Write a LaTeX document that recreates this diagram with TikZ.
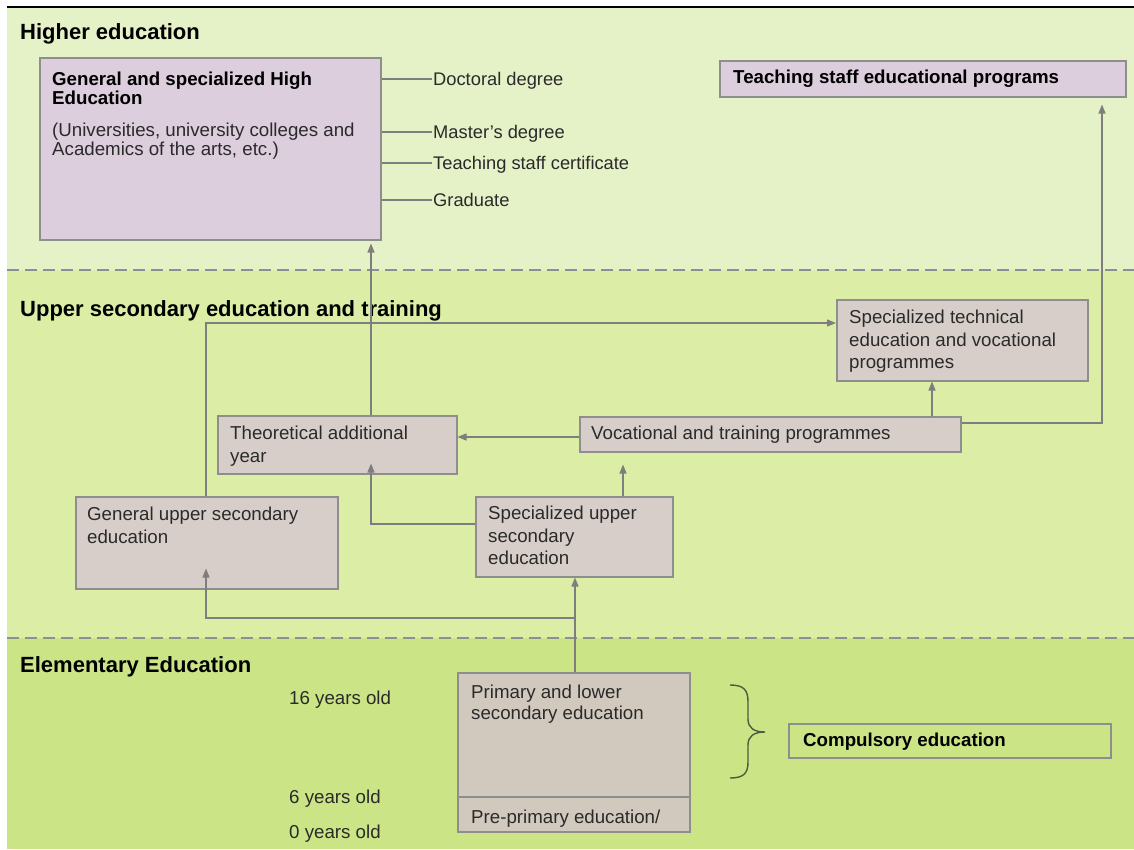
\documentclass[tikz,border=0pt]{standalone}
\usepackage{fontspec}
\setmainfont{Liberation Sans}
\usetikzlibrary{arrows.meta,calc}

\definecolor{bandtop}{HTML}{E5F1C6}
\definecolor{bandmid}{HTML}{DCEEA6}
\definecolor{bandlow}{HTML}{CBE586}
\definecolor{lilac}{HTML}{DDCEDD}
\definecolor{taupe}{HTML}{D7CEC9}
\definecolor{primfill}{HTML}{D2C9BE}
\definecolor{edge}{HTML}{8E8E8E}
\definecolor{linegrey}{HTML}{7E7E7E}
\definecolor{dashgrey}{HTML}{8A9098}
\definecolor{txtgrey}{HTML}{2A2A2A}
\definecolor{bracegrey}{HTML}{4F5B3F}

\tikzset{
  every node/.style={inner sep=0pt},
  band title/.style={anchor=west, font=\bfseries\fontsize{22}{24}\selectfont,
    text height=16pt, text depth=1pt},
  plain/.style={anchor=west, font=\fontsize{18.7}{22.5}\selectfont, text=txtgrey,
    text height=14pt, text depth=1pt},
  strong/.style={plain, font=\bfseries\fontsize{18.7}{22.5}\selectfont, text=black},
  para/.style={anchor=north west, align=left, text=txtgrey},
  pbox/.style={draw=edge, line width=1.5pt, fill=lilac, anchor=north west},
  gbox/.style={pbox, fill=taupe},
  flow/.style={draw=linegrey, line width=1.3pt, -{Triangle[length=9pt,width=7pt]}},
  tick/.style={draw=linegrey, line width=1.3pt},
  divider/.style={draw=dashgrey, line width=2.5pt, dash pattern=on 12pt off 6pt},
}

\begin{document}
\begin{tikzpicture}[x=1pt,y=-1pt]
\useasboundingbox (0,0) rectangle (1134,849);

% bands
\fill[white] (0,0) rectangle (1134,849);
\fill[bandtop] (7,7) rectangle (1134,270);
\fill[bandmid] (7,270) rectangle (1134,638);
\fill[bandlow] (7,638) rectangle (1134,849);
\draw[black, line width=2pt] (7,7) -- (1134,7);
\draw[divider] (7,270) -- (1134,270);
\draw[divider] (7,638) -- (1134,638);

\node[band title] (thigh) at (20,32) {Higher education};
\node[band title] (tupper) at (20,309) {Upper secondary education and training};
\node[band title] (telem) at (20,665) {Elementary Education};

% higher education
\node[pbox, minimum width=341pt, minimum height=182pt] (hied) at (39,57) {};
\node[para, font=\bfseries\fontsize{18.7}{19.5}\selectfont, text=black] (hiedtxt) at (52,71.5)
  {General and specialized High\\Education};
\node[para, font=\fontsize{18.7}{18.5}\selectfont] (hiednote) at (52,123)
  {(Universities, university colleges and\\Academics of the arts, etc.)};

\node[plain, font=\fontsize{18.3}{20}\selectfont, inner xsep=1pt] (doc) at (432,79) {Doctoral degree};
\node[plain, font=\fontsize{18.3}{20}\selectfont, inner xsep=1pt] (mas) at (432,132) {Master's degree};
\node[plain, font=\fontsize{18.3}{20}\selectfont, inner xsep=1pt] (cert) at (432,163) {Teaching staff certificate};
\node[plain, font=\fontsize{18.3}{20}\selectfont, inner xsep=1pt] (grad) at (432,200) {Graduate};
\foreach \d in {doc,mas,cert,grad}
  \draw[tick] (hied.east |- \d.west) -- (\d.west);

\node[pbox, minimum width=406pt, minimum height=36pt] (teach) at (719,60) {};
\node[strong] (teachtxt) at (733,77) {Teaching staff educational programs};

% upper secondary
\node[gbox, minimum width=251pt, minimum height=81pt] (spectech) at (836,299) {};
\node[para, font=\fontsize{18.7}{22.5}\selectfont] (spectechtxt) at (849,310)
  {Specialized technical\\education and vocational\\programmes};

\node[gbox, minimum width=381pt, minimum height=35pt] (voc) at (579,416) {};
\node[plain] (voctxt) at (591,433) {Vocational and training programmes};

\node[gbox, minimum width=239pt, minimum height=58pt] (theo) at (217,415) {};
\node[para, font=\fontsize{18.7}{23}\selectfont] (theotxt) at (230,426)
  {Theoretical additional\\year};

\node[gbox, minimum width=262pt, minimum height=92pt] (genup) at (75,496) {};
\node[para, font=\fontsize{18.7}{23}\selectfont] (genuptxt) at (87,507)
  {General upper secondary\\education};

\node[gbox, minimum width=197pt, minimum height=80pt] (specup) at (475,496) {};
\node[para, font=\fontsize{18.7}{22.5}\selectfont] (specuptxt) at (488,506)
  {Specialized upper\\secondary\\education};

% elementary
\node[gbox, fill=primfill, minimum width=232pt, minimum height=159pt] (prim) at (457,672) {};
\draw[draw=edge, line width=1.5pt] (457,797) -- (689,797);
\node[para, font=\fontsize{18.7}{21}\selectfont] (primtxt) at (471,685)
  {Primary and lower\\secondary education};
\node[plain] (pretxt) at (471,817) {Pre-primary education/};

\node[plain] (age16) at (289,698) {16 years old};
\node[plain] (age6) at (289,797) {6 years old};
\node[plain] (age0) at (289,832) {0 years old};

\draw[bracegrey, line width=1.4pt]
  (730,685) .. controls (744,685) and (748,690) .. (748,702)
  -- (748,719) .. controls (748,728) and (754,732) .. (765,732)
  .. controls (754,732) and (748,736) .. (748,745)
  -- (748,762) .. controls (748,773) and (744,778) .. (730,778);

\node[draw=edge, line width=1.5pt, anchor=north west, minimum width=322pt, minimum height=34pt] (comp) at (788,723) {};
\node[strong] (comptxt) at (803,740) {Compulsory education};

% connectors
\coordinate (c1) at (206,0);
\coordinate (c2) at (371,0);
\coordinate (c3) at (575,0);
\coordinate (c4) at (623,0);
\coordinate (c5) at (932,0);
\coordinate (c6) at (1102,0);
\coordinate (r1) at (0,323);
\coordinate (r2) at (0,437);
\coordinate (r3) at (0,423);
\coordinate (r4) at (0,524);
\coordinate (fork) at (575,618);

\draw[flow] (theo.north -| c2) -- ($(hied.south -| c2)+(0,3)$);
\draw[flow] (genup.north -| c1) |- (spectech.west |- r1);
\draw[flow] (voc.west |- r2) -- (theo.east |- r2);
\draw[flow] (voc.north -| c5) -- (spectech.south -| c5);
\draw[flow] (voc.east |- r3) -| ($(teach.south -| c6)+(0,7)$);
\draw[flow] (specup.north -| c4) -- ($(voc.south -| c4)+(0,12)$);
\draw[flow] (specup.west |- r4) -| ($(theo.south -| c2)+(0,-11)$);
\draw[flow] (prim.north -| c3) -- (specup.south -| c3);
\draw[flow] (fork) -| ($(genup.south -| c1)+(0,-21)$);
\end{tikzpicture}
\end{document}
